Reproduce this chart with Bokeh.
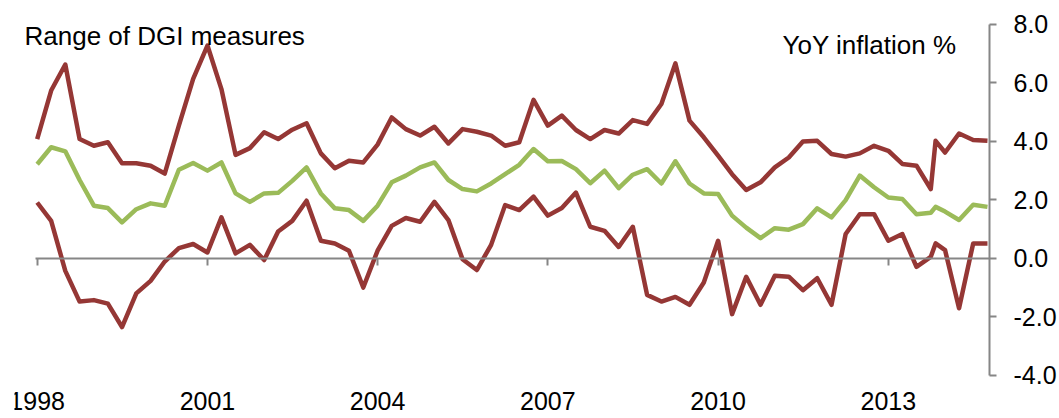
import pandas as pd
from bokeh.plotting import figure
from bokeh.models import (Range1d, FixedTicker, NumeralTickFormatter, DatetimeTickFormatter,
                          DatetimeAxis, CustomJSTickFormatter, Label)
from bokeh.embed import file_html
from bokeh.resources import INLINE

# quarterly observations, plus one extra monthly reading late in 2013
dates = (list(pd.date_range("1998-01-01", "2013-10-01", freq="QS"))
         + [pd.Timestamp("2013-11-01")]
         + list(pd.date_range("2014-01-01", "2014-10-01", freq="QS")))

upper = [4.08, 5.74, 6.63, 4.08, 3.85, 3.97, 3.25, 3.25, 3.17, 2.90,
         4.54, 6.14, 7.28, 5.79, 3.54, 3.77, 4.31, 4.08, 4.40, 4.62,
         3.59, 3.08, 3.34, 3.28, 3.89, 4.82, 4.42, 4.20, 4.50, 3.93,
         4.42, 4.33, 4.20, 3.85, 3.97, 5.42, 4.54, 4.88, 4.39, 4.08,
         4.39, 4.27, 4.73, 4.60, 5.28, 6.67, 4.71, 4.14, 3.51, 2.88,
         2.34, 2.60, 3.11, 3.45, 4.00, 4.02, 3.57, 3.48, 3.59, 3.85,
         3.68, 3.23, 3.17, 2.37, 4.02, 3.62, 4.27, 4.05, 4.02]

middle = [3.22, 3.80, 3.66, 2.68, 1.80, 1.72, 1.23, 1.68, 1.88, 1.80,
          3.03, 3.26, 3.00, 3.28, 2.22, 1.93, 2.22, 2.24, 2.65, 3.11,
          2.22, 1.71, 1.65, 1.28, 1.80, 2.60, 2.83, 3.11, 3.28, 2.68,
          2.37, 2.29, 2.56, 2.88, 3.20, 3.74, 3.32, 3.33, 3.05, 2.57,
          3.00, 2.40, 2.86, 3.05, 2.56, 3.32, 2.56, 2.22, 2.20, 1.46,
          1.05, 0.69, 1.03, 0.98, 1.17, 1.71, 1.40, 1.99, 2.83, 2.43,
          2.08, 2.03, 1.51, 1.56, 1.76, 1.60, 1.31, 1.83, 1.76]

lower = [1.91, 1.28, -0.43, -1.48, -1.43, -1.55, -2.35, -1.20, -0.77, -0.11,
         0.35, 0.49, 0.20, 1.40, 0.17, 0.46, -0.06, 0.92, 1.28, 1.97,
         0.60, 0.51, 0.26, -1.00, 0.26, 1.11, 1.38, 1.25, 1.93, 1.31,
         -0.03, -0.40, 0.46, 1.82, 1.65, 2.11, 1.46, 1.72, 2.25, 1.08,
         0.94, 0.39, 1.08, -1.25, -1.48, -1.32, -1.59, -0.83, 0.60, -1.91,
         -0.63, -1.59, -0.60, -0.63, -1.09, -0.68, -1.59, 0.83, 1.51, 1.51,
         0.60, 0.83, -0.29, 0.05, 0.51, 0.28, -1.71, 0.51, 0.51]

tick_years = [1998, 2001, 2004, 2007, 2010, 2013]
y_ticks = [-4, -2, 0, 2, 4, 6, 8]

RED = "#953735"
GREEN = "#9BBB59"
GREY = "#868686"
FONT = "Liberation Sans"

def ms(ts):
    return pd.Timestamp(ts).timestamp() * 1000

# the frame reaches past the chart's own extent (left, top and bottom) so captions and
# year labels are not clipped; axis bounds keep the axis lines to 1998.. and -4..8
x_start = ms("1997-08-08")
x_end = ms("2014-10-14")
axis_left = ms("1997-12-21")
tick_ms = [ms(f"{y}-01-01") for y in tick_years]

p = figure(width=1059, height=418, x_axis_type="datetime", y_axis_location="right",
           x_range=Range1d(x_start, x_end), y_range=Range1d(-5.48, 8.41),
           min_border_left=14, min_border_right=69, min_border_top=12, min_border_bottom=0,
           toolbar_location=None, output_backend="svg")
p.outline_line_color = None
p.xgrid.visible = False
p.ygrid.visible = False

p.line(dates, lower, line_color=RED, line_width=4.5, line_join="round")
p.line(dates, upper, line_color=RED, line_width=4.5, line_join="round")
p.line(dates, middle, line_color=GREEN, line_width=4.5, line_join="round")

# year labels under the -4.0 level
xa = p.xaxis[0]
xa.fixed_location = -4
xa.ticker = FixedTicker(ticks=tick_ms)
xa.formatter = DatetimeTickFormatter(years="%Y", months="%Y", days="%Y", hours="%Y")
xa.axis_line_color = None
xa.major_tick_line_color = None
xa.minor_tick_line_color = None
xa.major_tick_in = 0
xa.major_tick_out = 0
xa.major_label_standoff = 17
xa.major_label_text_font = FONT
xa.major_label_text_font_size = "25px"
xa.major_label_text_color = "black"

# the zero line with its tick marks
zero_axis = DatetimeAxis(fixed_location=0, ticker=FixedTicker(ticks=tick_ms),
                         formatter=CustomJSTickFormatter(code="return ''"),
                         bounds=(axis_left, x_end),
                         axis_line_color=GREY, axis_line_width=2,
                         major_tick_line_color=GREY, major_tick_line_width=2,
                         major_tick_in=0, major_tick_out=7, minor_tick_line_color=None)
p.add_layout(zero_axis, "below")

ya = p.yaxis[0]
ya.bounds = (-4, 8)
ya.ticker = FixedTicker(ticks=y_ticks)
ya.formatter = NumeralTickFormatter(format="0.0")
ya.axis_line_color = GREY
ya.axis_line_width = 2
ya.major_tick_line_color = GREY
ya.major_tick_line_width = 2
ya.major_tick_in = 0
ya.major_tick_out = 7
ya.minor_tick_line_color = None
ya.major_label_standoff = 17
ya.major_label_text_font = FONT
ya.major_label_text_font_size = "25px"
ya.major_label_text_color = "black"

p.add_layout(Label(x=x_start, y=8, x_offset=10, y_offset=-12,
                   text="Range of DGI measures", text_align="left", text_baseline="alphabetic",
                   text_font=FONT, text_font_size="26px", text_color="black"))
p.add_layout(Label(x=x_end, y=8, x_offset=-33, y_offset=-21,
                   text="YoY inflation %", text_align="right", text_baseline="alphabetic",
                   text_font=FONT, text_font_size="26px", text_color="black"))

open("out.html", "w").write(file_html(p, INLINE))
